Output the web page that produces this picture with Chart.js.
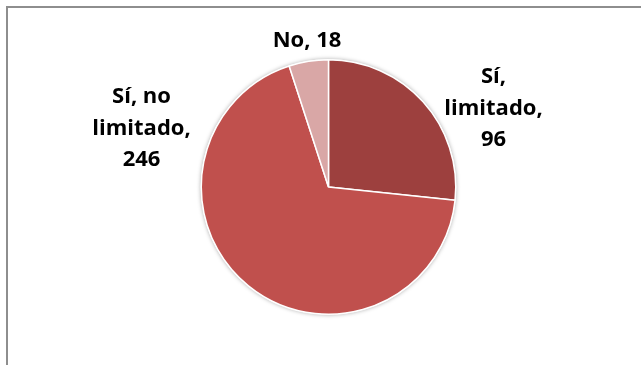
<!DOCTYPE html>
<html>
<head>
<meta charset="utf-8">
<script src="https://cdn.jsdelivr.net/npm/chart.js@4/dist/chart.umd.min.js"></script>
<style>
  html, body { margin: 0; padding: 0; background: #ffffff; }
  #wrap { width: 641px; height: 365px; position: relative; }
</style>
</head>
<body>
<div id="wrap"><canvas id="c" width="641" height="365"></canvas></div>
<script>
// Respuestas
const categories = ['Sí, limitado', 'Sí, no limitado', 'No'];
const values = [96, 246, 18];
const sliceColors = ['#9D403E', '#C0504D', '#D9A7A6'];

// Placement of each data label: offset of the first text line's centre/baseline from the pie centre
const labelOffsets = [
  { dx: 165, dy: -104 },
  { dx: -187, dy: -84 },
  { dx: -21.5, dy: -140 }
];

const labelFont = 'bold 22px "Open Sans", Lato, sans-serif';
const lineHeight = 31.5;
const wrapWidth = 116;

function wrapText(ctx, text, maxW) {
  const words = text.split(' ');
  const lines = [];
  let cur = '';
  for (const w of words) {
    const test = cur ? cur + ' ' + w : w;
    if (cur && ctx.measureText(test).width > maxW) {
      lines.push(cur);
      cur = w;
    } else {
      cur = test;
    }
  }
  if (cur) lines.push(cur);
  return lines;
}

// Outer frame of the chart
const framePlugin = {
  id: 'frame',
  beforeDraw(chart) {
    const ctx = chart.ctx;
    ctx.save();
    ctx.strokeStyle = '#8E8E8E';
    ctx.lineWidth = 2;
    ctx.strokeRect(7, 7, 700, 400);
    ctx.restore();
  }
};

// Soft edge around the pie
const haloPlugin = {
  id: 'halo',
  beforeDatasetsDraw(chart) {
    const arc = chart.getDatasetMeta(0).data[0];
    if (!arc) return;
    const ctx = chart.ctx;
    ctx.save();
    ctx.beginPath();
    ctx.arc(arc.x, arc.y, arc.outerRadius + 0.5, 0, Math.PI * 2);
    ctx.fillStyle = '#ffffff';
    ctx.shadowColor = 'rgba(0,0,0,0.35)';
    ctx.shadowBlur = 4;
    ctx.fill();
    ctx.restore();
  }
};

// Category + value labels
const labelPlugin = {
  id: 'sliceLabels',
  afterDatasetsDraw(chart) {
    const meta = chart.getDatasetMeta(0);
    const ctx = chart.ctx;
    ctx.save();
    ctx.font = labelFont;
    ctx.fillStyle = '#000000';
    ctx.textAlign = 'center';
    ctx.textBaseline = 'alphabetic';
    meta.data.forEach((arc, i) => {
      const text = chart.data.labels[i] + ', ' + chart.data.datasets[0].data[i];
      const lines = wrapText(ctx, text, wrapWidth);
      const off = labelOffsets[i];
      lines.forEach((ln, k) => {
        ctx.fillText(ln, arc.x + off.dx, arc.y + off.dy + k * lineHeight);
      });
    });
    ctx.restore();
  }
};

new Chart(document.getElementById('c'), {
  type: 'pie',
  data: {
    labels: categories,
    datasets: [{
      data: values,
      backgroundColor: sliceColors,
      borderColor: '#ffffff',
      borderWidth: 1.5
    }]
  },
  options: {
    responsive: false,
    animation: false,
    layout: { padding: { top: 59, bottom: 50, left: 200, right: 184 } },
    plugins: {
      legend: { display: false },
      tooltip: { enabled: false }
    }
  },
  plugins: [framePlugin, haloPlugin, labelPlugin]
});
</script>
</body>
</html>
